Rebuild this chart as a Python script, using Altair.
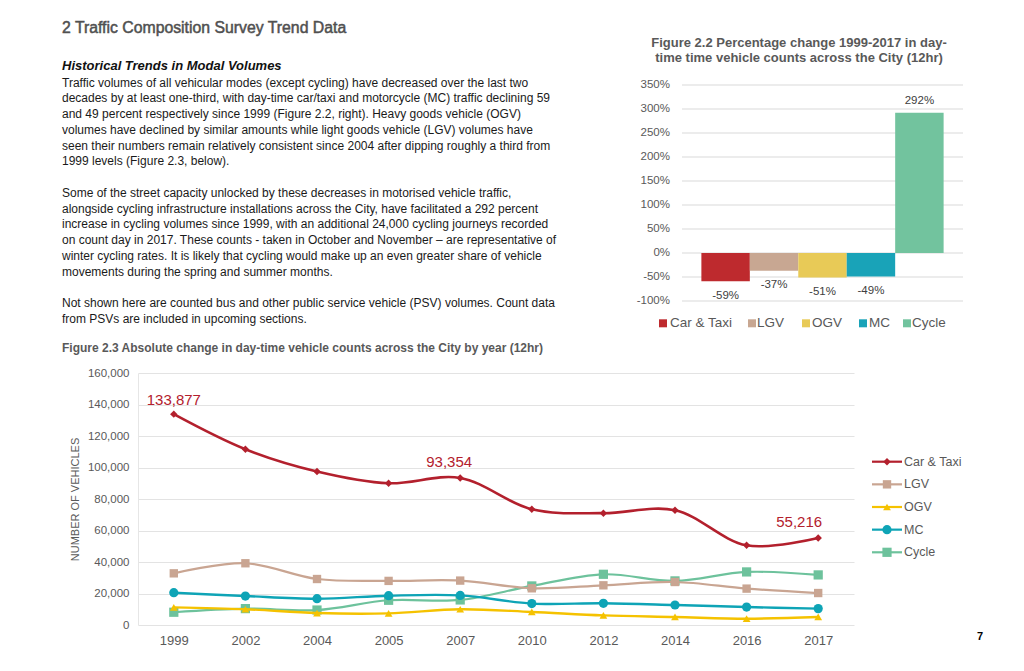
import altair as alt
import pandas as pd

FONT = "Liberation Sans"

# ---------------- data ----------------
modes = ["Car & Taxi", "LGV", "OGV", "MC", "Cycle"]
pct_change = [-59, -37, -51, -49, 292]
pct_ticks = [-100, -50, 0, 50, 100, 150, 200, 250, 300, 350]

years = ["1999", "2002", "2004", "2005", "2007", "2010", "2012", "2014", "2016", "2017"]
car_taxi = [133877, 111600, 97500, 90000, 93354, 73500, 71000, 72900, 50600, 55216]
lgv = [32800, 39200, 29200, 28000, 28200, 23300, 25200, 27300, 23100, 20300]
ogv = [11200, 10000, 7600, 7400, 10000, 8300, 6100, 5100, 4000, 5100]
mc = [20500, 18400, 16700, 18600, 18800, 13600, 13800, 12700, 11400, 10400]
cycle = [8100, 10400, 9500, 15700, 15900, 24800, 32200, 28000, 33700, 31800]
count_ticks = [0, 20000, 40000, 60000, 80000, 100000, 120000, 140000, 160000]

heading = "2 Traffic Composition Survey Trend Data"
subheading = "Historical Trends in Modal Volumes"
body_lines = [
    "Traffic volumes of all vehicular modes (except cycling) have decreased over the last two",
    "decades by at least one-third, with day-time car/taxi and motorcycle (MC) traffic declining 59",
    "and 49 percent respectively since 1999 (Figure 2.2, right). Heavy goods vehicle (OGV)",
    "volumes have declined by similar amounts while light goods vehicle (LGV) volumes have",
    "seen their numbers remain relatively consistent since 2004 after dipping roughly a third from",
    "1999  levels (Figure 2.3, below).",
    "",
    "Some of the street capacity unlocked by these decreases in motorised vehicle traffic,",
    "alongside cycling infrastructure installations across the City, have facilitated a 292 percent",
    "increase in cycling volumes since 1999, with an additional 24,000 cycling journeys recorded",
    "on count day in 2017. These counts - taken in October and November \u2013 are representative of",
    "winter cycling rates. It is likely that cycling would make up an even greater share of vehicle",
    "movements during the spring and summer months.",
    "",
    "Not shown here are counted bus and other public service vehicle (PSV) volumes. Count data",
    "from PSVs are included in upcoming sections.",
]
bar_title = ["Figure 2.2 Percentage change 1999-2017 in day-",
             "time time vehicle counts across the City (12hr)"]
line_caption = "Figure 2.3 Absolute change in day-time vehicle counts across the City by year (12hr)"
page_number = "7"

# ---------------- styles ----------------
bar_colors = ["#BE2A2E", "#C8A792", "#E8CA57", "#19A3B8", "#72C39E"]
line_colors = ["#B3202D", "#C9A592", "#F5C200", "#0EA4B6", "#6DC29C"]
shapes = ["diamond", "square", "triangle-up", "circle", "square"]
sizes = [55, 70, 60, 85, 85]
widths = [2.6, 2.2, 2.4, 2.4, 2.2]
GREY = "#595959"
# pixel layout (relative to the line chart's plot origin)
bar_legend_sym_x = [525, 614, 668, 725, 769]
bar_legend_lab_x = [532, 619, 674, 731, 774]

one = lambda s: pd.DataFrame({"t": [s]})

# ---------------- line chart (main view) ----------------
rows = []
for name, vals in zip(modes, [car_taxi, lgv, ogv, mc, cycle]):
    for yr, v in zip(years, vals):
        rows.append({"series": name, "year": yr, "value": v})
line_df = pd.DataFrame(rows)

lx = alt.X("year:O", sort=years, scale=alt.Scale(type="point", padding=0.5),
           axis=alt.Axis(labelAngle=0, title=None, domain=False, ticks=False, labelPadding=9,
                         labelFontSize=13, labelColor=GREY))
ly = alt.Y("value:Q", scale=alt.Scale(domain=[0, 160000], nice=False),
           axis=alt.Axis(values=count_ticks, format=",.0f", title="NUMBER OF VEHICLES", titleFontSize=11,
                         titleFontWeight="normal", titleColor=GREY, titlePadding=7, domain=True,
                         domainColor="#E6E6E6", ticks=False, labelPadding=9, labelFontSize=11.5,
                         labelColor=GREY, gridColor="#E3E3E3", labelOverlap=False))
col = alt.Color("series:N", scale=alt.Scale(domain=modes, range=line_colors), legend=None)

main_layers = []
for name in modes[::-1]:
    k = modes.index(name)
    base = alt.Chart(line_df).transform_filter(alt.datum.series == name)
    main_layers.append(base.mark_line(interpolate="catmull-rom", strokeWidth=widths[k]).encode(
        x=lx, y=ly, color=col))
    main_layers.append(base.mark_point(filled=True, opacity=1, shape=shapes[k], size=sizes[k]).encode(
        x=lx, y=ly, color=col))

for yr, dx, dy in [("1999", 0, -14), ("2007", -11, -16.3), ("2017", -19, -16.3)]:
    main_layers.append(
        alt.Chart(line_df)
        .transform_filter((alt.datum.series == modes[0]) & (alt.datum.year == yr))
        .mark_text(dx=dx, dy=dy, fontSize=15, color=line_colors[0], baseline="middle")
        .encode(x=lx, y=ly, text=alt.Text("value:Q", format=","))
    )

main_layers.append(alt.Chart(one(line_caption)).mark_text(
    align="left", baseline="middle", fontSize=12, fontWeight="bold", color=GREY
).encode(x=alt.value(-76), y=alt.value(-25.3), text="t:N"))
main_layers.append(alt.Chart(one(page_number)).mark_text(
    align="center", baseline="middle", fontSize=11, fontWeight="bold", color="#000000"
).encode(x=alt.value(842), y=alt.value(264), text="t:N"))
main_group = alt.layer(*main_layers)

# legend of the line chart
leg_df = pd.DataFrame({"series": modes})
ley = alt.Y("series:N", sort=modes,
            scale=alt.Scale(type="point", domain=modes, range=[88.7, 179.3], padding=0), axis=None)
legend_layers = [
    alt.Chart(leg_df).mark_rule(strokeWidth=2.2).encode(
        x=alt.value(734), x2=alt.value(764), y=ley, color=col),
    alt.Chart(leg_df).mark_text(align="left", baseline="middle", fontSize=12.5, color=GREY).encode(
        x=alt.value(766), y=ley, text="series:N"),
]
for k, name in enumerate(modes):
    legend_layers.append(
        alt.Chart(leg_df).transform_filter(alt.datum.series == name)
        .mark_point(filled=True, opacity=1, shape=shapes[k], size=sizes[k])
        .encode(x=alt.value(749), y=ley, color=col)
    )
legend_group = alt.layer(*legend_layers)

# ---------------- text block ----------------
head = alt.Chart(one(heading)).mark_text(
    align="left", baseline="middle", fontSize=15.8, color="#505050",
    stroke="#505050", strokeWidth=0.5
).encode(x=alt.value(-76), y=alt.value(-344.7), text="t:N")
sub = alt.Chart(one(subheading)).mark_text(
    align="left", baseline="middle", fontSize=13, fontWeight="bold", fontStyle="italic", color="#111111"
).encode(x=alt.value(-76), y=alt.value(-307.3), text="t:N")
body_df = pd.DataFrame({"line": body_lines, "row": list(range(len(body_lines)))})
body = alt.Chart(body_df).mark_text(
    align="left", baseline="middle", fontSize=12, color="#1a1a1a"
).encode(
    x=alt.value(-76),
    y=alt.Y("row:Q", scale=alt.Scale(domain=[0, len(body_lines) - 1], range=[-290.3, -54.05], nice=False,
                                      zero=False), axis=None),
    text="line:N",
)
text_group = alt.layer(body, head, sub)

title_df = pd.DataFrame({"t": bar_title, "r": [0, 1]})
title_group = alt.Chart(title_df).mark_text(
    align="center", baseline="middle", fontSize=13, fontWeight="bold", color=GREY
).encode(
    x=alt.value(661),
    y=alt.Y("r:Q", scale=alt.Scale(domain=[0, 1], range=[-329.7, -314.7], nice=False, zero=False), axis=None),
    text="t:N",
)

# ---------------- bar chart ----------------
bar_df = pd.DataFrame({"mode": modes, "pct": pct_change})
tick_df = pd.DataFrame({"tick": pct_ticks})
pct_scale = alt.Scale(domain=[-100, 350], range=[-72, -288], nice=False, zero=False)
bx = alt.X("mode:N", sort=modes, scale=alt.Scale(range=[544, 825], paddingInner=0, paddingOuter=0.4),
           axis=None)
bcol = alt.Color("mode:N", sort=modes, scale=alt.Scale(domain=modes, range=bar_colors), legend=None)

bar_grid = alt.Chart(tick_df).mark_rule(color="#D9D9D9", strokeWidth=1).encode(
    x=alt.value(544), x2=alt.value(825), y=alt.Y("tick:Q", scale=pct_scale, axis=None))
bar_axis_labels = alt.Chart(tick_df).transform_calculate(lab="datum.tick + '%'").mark_text(
    align="right", baseline="middle", fontSize=11.5, color=GREY
).encode(x=alt.value(532), y=alt.Y("tick:Q", scale=pct_scale, axis=None), text="lab:N")
bars = alt.Chart(bar_df).mark_bar().encode(
    x=bx, y=alt.Y("pct:Q", scale=pct_scale, axis=None), color=bcol)
lbl_base = alt.Chart(bar_df).transform_calculate(lab="datum.pct + '%'")
pos_lbl = lbl_base.transform_filter("datum.pct > 0").mark_text(
    dy=-12, fontSize=11.5, color="#404040", baseline="middle"
).encode(x=bx, y=alt.Y("pct:Q", scale=pct_scale, axis=None), text="lab:N")
neg_lbl = lbl_base.transform_filter("datum.pct < 0").mark_text(
    dy=14.5, fontSize=11.5, color="#404040", baseline="middle"
).encode(x=bx, y=alt.Y("pct:Q", scale=pct_scale, axis=None), text="lab:N")

bar_layers = [bar_grid, bar_axis_labels, bars, pos_lbl, neg_lbl]
for k, name in enumerate(modes):
    item = alt.Chart(bar_df).transform_filter(alt.datum.mode == name)
    bar_layers.append(item.mark_square(size=64, opacity=1).encode(
        x=alt.value(bar_legend_sym_x[k]), y=alt.value(-49.7), color=bcol))
    bar_layers.append(item.mark_text(align="left", baseline="middle", fontSize=13.5, color=GREY).encode(
        x=alt.value(bar_legend_lab_x[k]), y=alt.value(-49.7), text="mode:N"))
bar_group = alt.layer(*bar_layers)

# ---------------- page ----------------
chart = alt.layer(main_group, legend_group, text_group, title_group, bar_group).resolve_scale(
    x="independent", y="independent", color="independent"
).properties(
    width=716, height=252,
    padding={"left": 54, "top": 12, "right": 5, "bottom": 5},
).configure(font=FONT).configure_view(stroke=None)

chart.save("out.html", embed_options={"renderer": "svg", "actions": False})
